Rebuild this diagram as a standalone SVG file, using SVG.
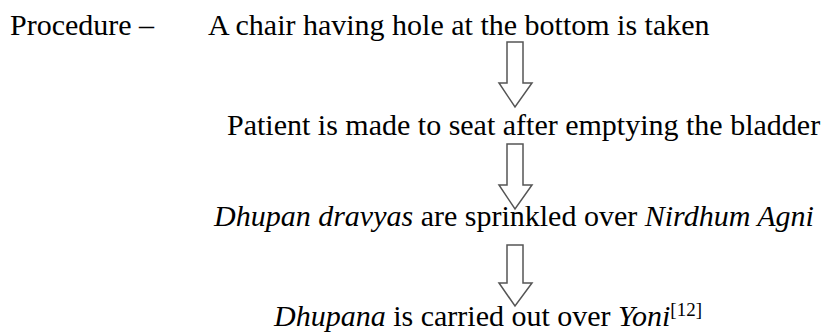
<svg xmlns="http://www.w3.org/2000/svg" width="833" height="336" viewBox="0 0 833 336" font-family="Liberation Serif" font-size="30">
<style>
.arrow{fill:#fff;stroke:#555;stroke-width:1.5}
</style>
<rect width="833" height="336" fill="#fff"/>
<g id="n0" style="font-family:'Liberation Serif',serif !important"><text x="10" y="35" style="font-family:'Liberation Serif',serif !important;font-size:30px">Procedure –</text></g>
<g id="n1" style="font-family:'Liberation Serif',serif !important"><text x="208" y="35" style="font-family:'Liberation Serif',serif !important;font-size:30px">A chair having hole at the bottom is taken</text></g>
<g id="n2" style="font-family:'Liberation Serif',serif !important"><text x="227" y="135" style="font-family:'Liberation Serif',serif !important;font-size:30px">Patient is made to seat after emptying the bladder</text></g>
<g id="n3" style="font-family:'Liberation Serif',serif !important"><text x="214" y="226" style="font-family:'Liberation Serif',serif !important;font-size:30px"><tspan font-style="italic">Dhupan dravyas</tspan> are sprinkled over <tspan font-style="italic">Nirdhum Agni</tspan></text></g>
<g id="n4" style="font-family:'Liberation Serif',serif !important"><text x="274" y="326" style="font-family:'Liberation Serif',serif !important;font-size:30px"><tspan font-style="italic">Dhupana</tspan> is carried out over <tspan font-style="italic">Yoni</tspan><tspan font-size="19" dy="-10">[12]</tspan></text></g>
<g id="connectors">
<path class="arrow" d="M507 42 H523 V83 H532 L515 107 L499 83 H507 Z"/>
<path class="arrow" d="M507 144 H523 V185 H532 L515 209 L499 185 H507 Z"/>
<path class="arrow" d="M507 245 H523 V283 H532 L515 306 L499 283 H507 Z"/>
</g>
</svg>
